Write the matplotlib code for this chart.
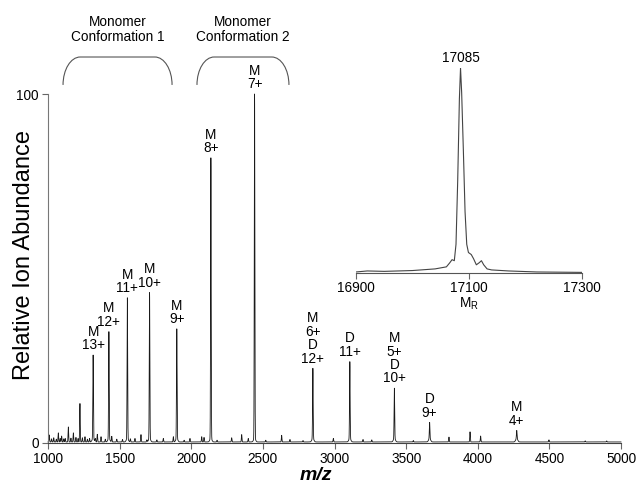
import numpy as np
import matplotlib
matplotlib.use('Agg')
import matplotlib.pyplot as plt
from matplotlib.path import Path
from matplotlib.patches import PathPatch

plt.rcParams['font.family'] = ['Liberation Sans', 'DejaVu Sans']
plt.rcParams['mathtext.fontset'] = 'custom'
plt.rcParams['mathtext.rm'] = 'Liberation Sans'

# labelled charge states (m/z, relative abundance %)
peak_mz = [1315, 1425, 1554, 1709, 1899, 2137, 2442, 2849, 3107, 3418, 3664, 4272]
peak_int = [25.2, 31.9, 41.6, 43.1, 32.7, 81.7, 100.0, 21.4, 23.3, 15.7, 5.9, 3.6]
peak_labels = ['M\n13+', 'M\n12+', 'M\n11+', 'M\n10+', 'M\n9+', 'M\n8+', 'M\n7+',
               'M\n6+\nD\n12+', 'D\n11+', 'M\n5+\nD\n10+', 'D\n9+', 'M\n4+']

# unlabelled minor peaks / chemical noise
minor_mz = [1009, 1025, 1040, 1058, 1072, 1085, 1095, 1110, 1120, 1142, 1160,
            1177, 1195, 1210, 1223, 1240, 1258, 1275, 1290, 1330, 1344, 1370,
            1400, 1445, 1480, 1520, 1575, 1607, 1649, 1690, 1760, 1805,
            1875, 1950, 1991, 2073, 2089, 2180, 2282, 2352, 2398, 2520, 2631,
            2689, 2780, 2992, 3199, 3260, 3550, 3799, 3946, 4020, 4497, 4750, 4900]
minor_int = [2.0, 0.9, 1.2, 0.8, 2.6, 1.0, 1.7, 0.9, 1.0, 4.3, 1.1,
             2.6, 1.3, 1.0, 11.0, 1.2, 1.5, 0.8, 1.0, 0.9, 2.2, 1.5,
             0.8, 1.6, 0.8, 0.7, 0.9, 1.0, 2.1, 0.6, 0.6, 1.0,
             1.5, 0.5, 1.0, 1.5, 1.3, 0.5, 1.2, 2.1, 1.0, 0.5, 1.9,
             0.7, 0.4, 1.0, 0.7, 0.6, 0.4, 1.4, 2.9, 1.7, 0.6, 0.3, 0.3]

# deconvoluted mass profile
inset_mass = [16900, 16920, 16950, 17000, 17040, 17060, 17066, 17070, 17074,
              17077, 17080, 17083, 17085, 17087, 17090, 17093, 17096, 17099,
              17104, 17108, 17113, 17118, 17122, 17126, 17132, 17140, 17170,
              17220, 17300]
inset_int = [0.5, 1.0, 0.8, 1.2, 2.0, 3.0, 5.0, 6.5, 6.0,
             14.0, 45.0, 85.0, 100.0, 88.0, 60.0, 30.0, 14.0, 10.0,
             9.0, 7.0, 4.0, 5.0, 6.0, 4.0, 2.0, 1.5, 1.0,
             0.5, 0.3]

x_ticks = [1000, 1500, 2000, 2500, 3000, 3500, 4000, 4500, 5000]
inset_ticks = [16900, 17100, 17300]

conf_names = ['Monomer\nConformation 1', 'Monomer\nConformation 2']
conf_start = [1105, 2040]
conf_end = [1866, 2682]

# build the profile trace from the peak list
mz = np.arange(1000, 5000.01, 0.25)
spec = np.full_like(mz, 0.3)
for c, h in zip(peak_mz, peak_int):
    spec += (h - 1.3) * np.exp(-0.5 * ((mz - c) / 2.0) ** 2)
    spec += 1.0 * np.exp(-0.5 * ((mz - c) / 7.0) ** 2)
for c, h in zip(minor_mz, minor_int):
    spec += h * np.exp(-0.5 * ((mz - c) / 2.0) ** 2)

fig = plt.figure(figsize=(6.38, 4.83), dpi=100)
ax = fig.add_axes([48 / 638, 40 / 483, 573 / 638, 349 / 483])
ax.plot(mz, spec, color='#1a1a1a', lw=0.6, clip_on=False)
ax.set_xlim(1000, 5000)
ax.set_ylim(0, 100)
ax.set_xticks(x_ticks)
ax.set_yticks([0, 100])
for s in ['top', 'right']:
    ax.spines[s].set_visible(False)
ax.spines['left'].set_color('#777777')
ax.spines['bottom'].set_color('#444444')
ax.spines['left'].set_linewidth(0.8)
ax.spines['bottom'].set_linewidth(0.8)
ax.tick_params(direction='out', length=4.5, width=0.8, color='#666666',
               labelsize=9.8, pad=2)
ax.patch.set_alpha(0)

for c, h, lbl in zip(peak_mz, peak_int, peak_labels):
    ax.annotate(lbl, (c, h), xytext=(0, 2), textcoords='offset points',
                ha='center', va='bottom', fontsize=9.8, linespacing=0.95)

# brackets over the two monomer conformations
def bracket(x0, x1, yb=102.6, yt=110.6, w=120):
    k = 0.552
    h = yt - yb
    verts = [(x0, yb), (x0, yb + k * h), (x0 + w - k * w, yt), (x0 + w, yt),
             (x1 - w, yt),
             (x1 - w + k * w, yt), (x1, yb + k * h), (x1, yb)]
    codes = [Path.MOVETO, Path.CURVE4, Path.CURVE4, Path.CURVE4, Path.LINETO,
             Path.CURVE4, Path.CURVE4, Path.CURVE4]
    return PathPatch(Path(verts, codes), fill=False, edgecolor='#555555',
                     lw=0.8, clip_on=False)

for name, a, b in zip(conf_names, conf_start, conf_end):
    ax.add_patch(bracket(a, b))
    ax.text((a + b) / 2, 118.6, name, ha='center', va='center',
            fontsize=9.8, linespacing=1.1, clip_on=False)

ax.text(0.468, -0.092, 'm/z', transform=ax.transAxes, ha='center', va='center',
        fontsize=14, fontweight='bold', fontstyle='italic')
fig.text(24 / 638, 1 - 255 / 483, 'Relative Ion Abundance', rotation=90,
         ha='center', va='center', fontsize=17)

# deconvoluted mass inset
ax2 = fig.add_axes([356 / 638, 210 / 483, 226 / 638, 205 / 483])
ax2.plot(inset_mass, inset_int, color='#444444', lw=0.8)
ax2.set_xlim(16900, 17300)
ax2.set_ylim(0, 100)
ax2.set_xticks(inset_ticks)
ax2.set_yticks([])
for s in ['top', 'right', 'left']:
    ax2.spines[s].set_visible(False)
ax2.spines['bottom'].set_color('#555555')
ax2.spines['bottom'].set_linewidth(0.8)
ax2.tick_params(direction='out', length=4, width=0.8, color='#666666',
                labelsize=9.8, pad=2)
ax2.set_xlabel(r'$\mathregular{M_R}$', fontsize=9.8, labelpad=0)
ax2.patch.set_alpha(0)
ax2.annotate('17085', (17085, 100), xytext=(0, 2), textcoords='offset points',
             ha='center', va='bottom', fontsize=9.8)

fig.savefig('out.png', dpi=100)
